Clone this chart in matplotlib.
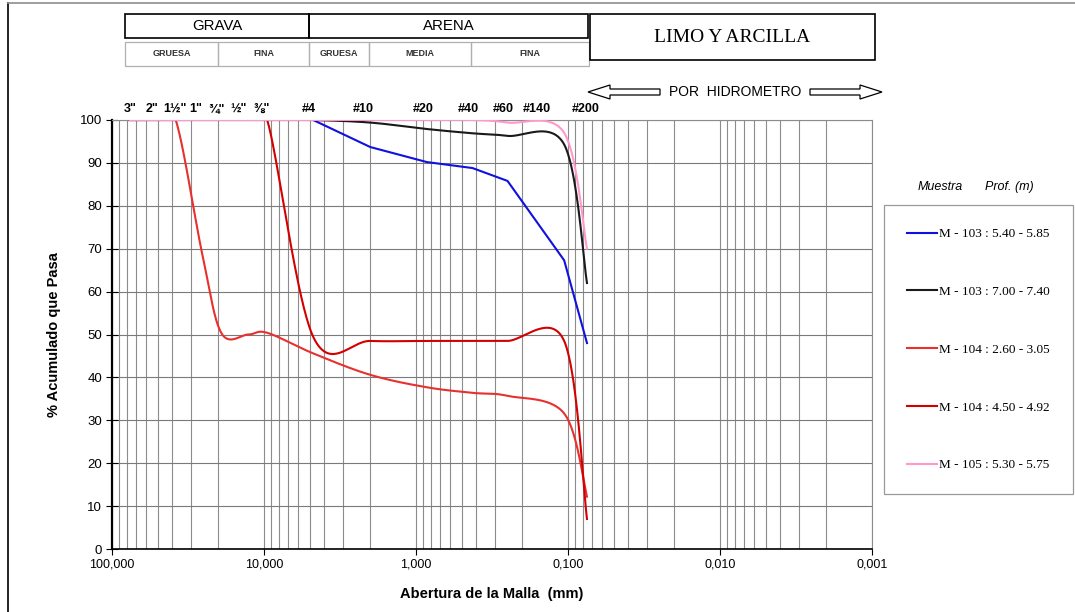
import numpy as np
import matplotlib
matplotlib.use("Agg")
import matplotlib.pyplot as plt
from matplotlib.patches import Rectangle, Polygon
from matplotlib.lines import Line2D
from matplotlib.ticker import FixedLocator, NullFormatter

plt.rcParams['font.family'] = ['Liberation Sans', 'DejaVu Sans']

# tamices (mm)
sieves = [76.2, 50.8, 38.1, 25.4, 19.05, 12.7, 9.525, 4.75, 2.0, 0.85, 0.425, 0.25, 0.106, 0.075]

m103_a = [100, 100, 100, 100, 100, 100, 100, 100, 93.7, 90.2, 88.8, 85.8, 67.3, 48.0]
m103_b = [100, 100, 100, 100, 100, 100, 100, 100, 99.4, 97.9, 96.9, 96.3, 94.3, 62.0]
m104_a = [100, 100, 100, 68.5, 50.3, 50.0, 50.4, 45.6, 40.6, 37.7, 36.4, 35.7, 31.6, 12.2]
m104_b = [100, 100, 100, 100, 100, 100, 100, 49.5, 48.5, 48.5, 48.5, 48.5, 48.5, 7.0]
m105 = [100, 100, 100, 100, 100, 100, 100, 100, 100, 100, 100, 99.4, 97.0, 70.0]

labels = ["M - 103 : 5.40 - 5.85", "M - 103 : 7.00 - 7.40", "M - 104 : 2.60 - 3.05",
          "M - 104 : 4.50 - 4.92", "M - 105 : 5.30 - 5.75"]
colors = ["#1010e0", "#1a1a1a", "#e8302e", "#d40000", "#ff99cc"]
smooth = [False, True, True, True, True]

sieve_names = ['3"', '2"', '1½"', '1"', '¾"', '½"', '⅜"', '#4', '#10', '#20', '#40', '#60', '#140', '#200']
sieve_label_pos = [76.2, 54.5, 38.5, 28.0, 20.4, 14.8, 10.3, 5.06, 2.23, 0.90, 0.455, 0.268, 0.16, 0.076]

xticks = [100, 10, 1, 0.1, 0.01, 0.001]
xticklabels = ["100,000", "10,000", "1,000", "0,100", "0,010", "0,001"]

W, H = 1075, 612


def fx(px):
    return px / W


def fy(py):
    return 1 - py / H


def smooth_curve(xs, ys, n=40):
    # bezier suavizado tipo Excel en (log10 x, y)
    p = np.column_stack([np.log10(xs), ys])
    ext = np.vstack([p[0], p, p[-1]])
    out = [p[0]]
    t = np.linspace(0, 1, n)[1:, None]
    for i in range(len(p) - 1):
        p0, p1 = p[i], p[i + 1]
        c1 = p0 + (ext[i + 2] - ext[i]) / 6
        c2 = p1 - (ext[i + 3] - ext[i + 1]) / 6
        seg = (1 - t) ** 3 * p0 + 3 * (1 - t) ** 2 * t * c1 + 3 * (1 - t) * t ** 2 * c2 + t ** 3 * p1
        out.extend(seg)
    out = np.array(out)
    return 10 ** out[:, 0], out[:, 1]


fig = plt.figure(figsize=(W / 100, H / 100), dpi=100)
ax = fig.add_axes([fx(112), fy(549), fx(872) - fx(112), fy(120) - fy(549)])

series = [m103_a, m103_b, m104_a, m104_b, m105]
handles = []
for vals, lab, col, sm in zip(series, labels, colors, smooth):
    if sm:
        xs, ys = smooth_curve(sieves, vals)
    else:
        xs, ys = sieves, vals
    ln, = ax.plot(xs, ys, color=col, lw=1.5, label=lab, zorder=3)
    handles.append(ln)

ax.set_xscale('log')
ax.set_xlim(100, 0.001)
ax.set_ylim(0, 100)
ax.xaxis.set_major_locator(FixedLocator(xticks))
ax.set_xticklabels(xticklabels)
ax.xaxis.set_minor_locator(FixedLocator([k * 10.0 ** e for e in range(-3, 2) for k in range(2, 10)]))
ax.xaxis.set_minor_formatter(NullFormatter())
ax.set_yticks(range(0, 101, 10))
ax.grid(which='both', axis='x', color='#8c8c8c', lw=0.8)
ax.grid(which='major', axis='y', color='#7a7a7a', lw=0.8)
ax.set_axisbelow(True)
ax.tick_params(axis='x', which='major', direction='out', length=4, labelsize=9, pad=3)
ax.tick_params(axis='x', which='minor', length=0)
ax.tick_params(axis='y', direction='inout', length=8, labelsize=9.5, pad=3)
ax.spines['left'].set_linewidth(1.6)
ax.spines['bottom'].set_linewidth(1.2)
for s in ['top', 'right']:
    ax.spines[s].set_color('#8c8c8c')
    ax.spines[s].set_linewidth(0.8)

ax.set_ylabel("% Acumulado que Pasa", fontsize=10.5, fontweight='bold', labelpad=14)
ax.set_xlabel("Abertura de la Malla  (mm)", fontsize=10.5, fontweight='bold', labelpad=12)

# etiquetas de tamices
for name, pos in zip(sieve_names, sieve_label_pos):
    ax.text(pos, 101.2, name, ha='center', va='bottom', fontsize=9, fontweight='bold',
            family=['Liberation Sans', 'DejaVu Sans'])

# encabezado de clasificacion
top_boxes = [("GRAVA", 125, 309), ("ARENA", 309, 588)]
for txt, x0, x1 in top_boxes:
    fig.patches.append(Rectangle((fx(x0), fy(38)), fx(x1) - fx(x0), fy(14) - fy(38),
                                 transform=fig.transFigure, fill=False, ec='black', lw=1.2))
    fig.text(fx((x0 + x1) / 2), fy(26), txt, ha='center', va='center', fontsize=10.8)

sub_boxes = [("GRUESA", 125, 218), ("FINA", 218, 309), ("GRUESA", 309, 369),
             ("MEDIA", 369, 471), ("FINA", 471, 589)]
for txt, x0, x1 in sub_boxes:
    fig.patches.append(Rectangle((fx(x0), fy(66)), fx(x1) - fx(x0), fy(42) - fy(66),
                                 transform=fig.transFigure, fill=False, ec='#b0b0b0', lw=0.9))
    fig.text(fx((x0 + x1) / 2), fy(54), txt, ha='center', va='center', fontsize=6.5,
             fontweight='bold', color='#333333')

fig.patches.append(Rectangle((fx(590), fy(60)), fx(875) - fx(590), fy(14) - fy(60),
                             transform=fig.transFigure, fill=False, ec='black', lw=1.2))
fig.text(fx(732), fy(38), "LIMO Y ARCILLA", ha='center', va='center', fontsize=14,
         family='Liberation Serif')

# flechas hidrometro
def block_arrow(tip, tail, yc, head=22, hh=7, sh=3):
    d = 1 if tail > tip else -1
    base = tip + d * head
    pts = [(tip, yc), (base, yc - hh), (base, yc - sh), (tail, yc - sh),
           (tail, yc + sh), (base, yc + sh), (base, yc + hh)]
    fig.patches.append(Polygon([(fx(a), fy(b)) for a, b in pts], closed=True,
                               transform=fig.transFigure, fc='white', ec='black', lw=0.9))

block_arrow(588, 660, 92)
block_arrow(882, 810, 92)
fig.text(fx(735), fy(92), "POR  HIDROMETRO", ha='center', va='center', fontsize=10)

# borde de pagina
fig.add_artist(Line2D([fx(8), fx(8)], [fy(3), 0], transform=fig.transFigure, color='black', lw=1.2))
fig.add_artist(Line2D([fx(8), 1], [fy(3), fy(3)], transform=fig.transFigure, color='#8c8c8c', lw=1.2))

# leyenda
fig.text(fx(940), fy(187), "Muestra", ha='center', va='center', fontsize=9, style='italic')
fig.text(fx(1009), fy(187), "Prof. (m)", ha='center', va='center', fontsize=9, style='italic')
leg = fig.legend(handles=handles, loc='upper left', bbox_to_anchor=(fx(884), fy(205)),
                 prop={'family': 'Liberation Serif', 'size': 9.5}, frameon=True, fancybox=False,
                 borderpad=1.75, labelspacing=3.45, handlelength=2.3, handletextpad=0.15,
                 borderaxespad=0)
leg.get_frame().set_edgecolor('#808080')
leg.get_frame().set_linewidth(0.9)

fig.savefig("out.png", dpi=100)
